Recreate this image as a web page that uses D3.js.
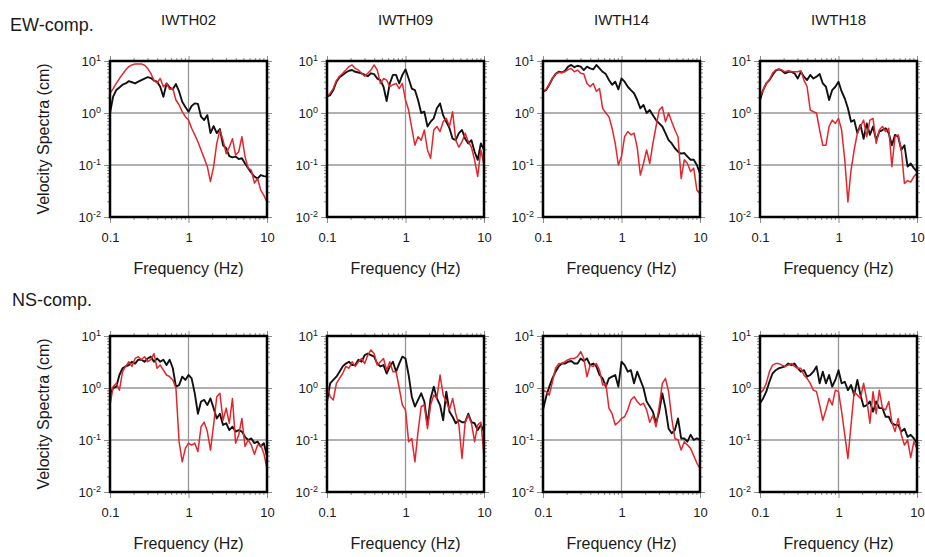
<!DOCTYPE html>
<html><head><meta charset="utf-8">
<script src="https://cdn.jsdelivr.net/npm/d3@7"></script>
<style>
body{margin:0;background:#fff}
text{font-family:"Liberation Sans",Arial,Helvetica,sans-serif;fill:#1a1a1a}
</style>
</head><body>
<svg id="chart" width="925" height="557"></svg>
<script>
// ---------------- DATA ----------------
const stations = ["IWTH02", "IWTH09", "IWTH14", "IWTH18"];
const components = ["EW-comp.", "NS-comp."];
const xTickValues = [0.1, 1, 10];
const xTickLabels = ["0.1", "1", "10"];
const yTickValues = [0.01, 0.1, 1, 10];
const yTickExponents = ["-2", "-1", "0", "1"];
const xAxisTitle = "Frequency (Hz)";
const yAxisTitle = "Velocity Spectra (cm)";

const freq = [0.1, 0.1096, 0.1202, 0.1318, 0.1445, 0.1585, 0.1738, 0.1905, 0.2089, 0.2291,
  0.2512, 0.2754, 0.302, 0.3311, 0.3631, 0.3981, 0.4365, 0.4786, 0.5248, 0.5754,
  0.631, 0.6918, 0.7586, 0.8318, 0.912, 1.0, 1.096, 1.202, 1.318, 1.445,
  1.585, 1.738, 1.905, 2.089, 2.291, 2.512, 2.754, 3.02, 3.311, 3.631,
  3.981, 4.365, 4.786, 5.248, 5.754, 6.31, 6.918, 7.586, 8.318, 9.12, 10.0];

// EW component
const ew02Black = [1.0, 2.06, 2.76, 3.1, 3.5, 3.7, 4.1, 3.9, 3.7, 4.0, 4.3, 4.6, 4.9, 4.7, 4.2, 4.0, 3.2, 2.05, 3.7, 3.1, 2.85, 3.6, 2.6, 1.65, 1.3, 1.06, 1.36, 1.53, 1.5, 0.85, 0.73, 0.91, 0.41, 0.56, 0.41, 0.49, 0.24, 0.21, 0.148, 0.14, 0.145, 0.13, 0.135, 0.107, 0.087, 0.071, 0.06, 0.055, 0.064, 0.061, 0.06];
const ew02Red = [2.4, 2.95, 3.7, 4.6, 5.6, 6.7, 7.8, 8.4, 8.8, 8.8, 8.8, 8.3, 7.2, 5.8, 4.2, 3.8, 4.6, 3.2, 3.7, 2.85, 2.95, 1.78, 1.43, 1.06, 0.85, 0.73, 0.51, 0.38, 0.28, 0.195, 0.135, 0.093, 0.048, 0.093, 0.26, 0.47, 0.30, 0.165, 0.22, 0.32, 0.155, 0.18, 0.35, 0.145, 0.087, 0.08, 0.045, 0.055, 0.033, 0.026, 0.0195];
const ew09Black = [2.06, 2.2, 2.76, 4.0, 4.9, 5.4, 6.0, 6.5, 6.7, 6.2, 6.0, 5.8, 5.4, 5.1, 5.8, 5.6, 4.6, 4.3, 3.2, 1.7, 3.7, 5.4, 5.4, 3.7, 5.4, 6.9, 4.6, 2.95, 2.76, 1.78, 1.0, 1.06, 0.55, 0.68, 0.79, 1.23, 1.53, 0.9, 0.68, 0.51, 0.32, 0.30, 0.41, 0.47, 0.32, 0.26, 0.30, 0.18, 0.126, 0.26, 0.195];
const ew09Red = [2.06, 2.4, 2.95, 4.2, 5.1, 5.8, 6.7, 7.8, 8.4, 7.2, 6.7, 5.8, 5.1, 5.8, 6.7, 8.4, 6.7, 3.7, 4.6, 4.3, 3.2, 3.5, 3.7, 2.95, 3.7, 1.78, 1.14, 0.51, 0.24, 0.35, 0.30, 0.47, 0.195, 0.135, 0.47, 0.55, 0.44, 0.68, 0.79, 0.55, 1.06, 0.30, 0.22, 0.28, 0.41, 0.28, 0.22, 0.126, 0.06, 0.195, 0.10];
const ew14Black = [2.6, 2.76, 3.5, 4.6, 5.6, 6.2, 6.0, 6.5, 7.8, 8.4, 7.6, 8.1, 7.8, 6.7, 7.8, 7.2, 6.9, 8.4, 7.2, 6.2, 5.6, 4.3, 3.5, 4.0, 2.85, 4.6, 4.0, 3.2, 2.76, 2.4, 1.78, 1.23, 1.43, 1.0, 1.14, 0.91, 0.73, 0.63, 0.55, 0.41, 0.30, 0.26, 0.21, 0.18, 0.165, 0.17, 0.145, 0.126, 0.126, 0.10, 0.069];
const ew14Red = [2.6, 2.85, 3.6, 4.6, 5.6, 6.0, 6.0, 6.2, 6.9, 7.2, 6.2, 6.7, 5.8, 5.6, 3.7, 3.2, 3.7, 2.6, 2.95, 1.23, 1.0, 0.85, 0.51, 0.26, 0.10, 0.145, 0.35, 0.44, 0.38, 0.41, 0.22, 0.064, 0.107, 0.195, 0.107, 0.26, 0.55, 1.14, 1.32, 0.68, 1.0, 0.68, 0.47, 0.35, 0.055, 0.126, 0.107, 0.075, 0.087, 0.033, 0.028];
const ew18Black = [1.78, 2.76, 3.7, 4.3, 5.4, 6.5, 6.9, 6.5, 5.8, 6.2, 6.2, 5.8, 4.6, 6.2, 5.0, 4.3, 5.4, 4.6, 5.0, 5.6, 3.7, 3.2, 1.78, 2.76, 3.2, 4.0, 2.6, 1.9, 1.23, 0.68, 0.73, 0.41, 0.59, 0.32, 0.63, 0.38, 0.55, 0.30, 0.44, 0.47, 0.51, 0.41, 0.24, 0.38, 0.35, 0.195, 0.24, 0.093, 0.107, 0.087, 0.075];
const ew18Red = [2.06, 2.76, 3.7, 4.4, 5.8, 6.7, 7.0, 6.7, 6.2, 6.5, 6.2, 6.2, 6.2, 6.5, 4.3, 3.2, 1.14, 1.06, 1.0, 0.47, 0.24, 0.24, 0.55, 0.73, 0.63, 0.79, 0.47, 0.126, 0.0195, 0.08, 0.195, 0.41, 0.55, 0.73, 0.35, 0.73, 0.79, 0.26, 0.47, 0.55, 0.44, 0.51, 0.093, 0.35, 0.38, 0.195, 0.044, 0.05, 0.047, 0.06, 0.069];

// NS component
const ns02Black = [0.73, 1.0, 1.06, 1.78, 2.4, 2.6, 2.76, 3.2, 2.95, 3.5, 3.5, 3.2, 3.7, 4.0, 3.2, 3.7, 3.2, 3.5, 2.76, 3.5, 2.4, 1.06, 1.14, 1.65, 1.43, 1.78, 1.53, 0.79, 0.32, 0.55, 0.59, 0.47, 0.63, 0.41, 0.26, 0.32, 0.195, 0.21, 0.155, 0.18, 0.145, 0.155, 0.145, 0.115, 0.10, 0.107, 0.087, 0.093, 0.075, 0.087, 0.048];
const ns02Red = [0.47, 1.06, 1.23, 0.91, 2.06, 2.6, 3.2, 2.6, 3.7, 4.0, 3.5, 4.0, 3.2, 3.5, 4.6, 2.4, 2.76, 2.2, 1.78, 1.65, 1.43, 1.0, 0.093, 0.038, 0.069, 0.087, 0.08, 0.087, 0.06, 0.18, 0.22, 0.145, 0.064, 0.195, 0.68, 0.79, 0.24, 0.41, 0.21, 0.63, 0.087, 0.126, 0.26, 0.075, 0.10, 0.08, 0.053, 0.08, 0.08, 0.055, 0.028];
const ns09Black = [0.55, 1.23, 1.43, 1.65, 2.06, 2.6, 2.95, 3.2, 2.76, 2.76, 3.5, 3.2, 4.3, 4.6, 4.3, 4.0, 2.95, 2.6, 2.76, 1.9, 2.6, 3.2, 2.06, 2.95, 4.0, 3.7, 1.78, 0.68, 0.44, 0.59, 0.79, 0.55, 0.195, 0.63, 1.06, 0.63, 0.47, 0.24, 0.85, 0.35, 0.28, 0.21, 0.24, 0.22, 0.22, 0.32, 0.22, 0.21, 0.155, 0.195, 0.145];
const ns09Red = [1.14, 0.68, 0.59, 1.23, 1.53, 1.9, 2.6, 2.4, 3.2, 2.6, 3.2, 3.7, 2.95, 4.3, 5.4, 4.6, 2.76, 3.2, 3.7, 2.2, 3.2, 2.06, 2.06, 1.0, 0.47, 0.38, 0.093, 0.107, 0.038, 0.145, 0.44, 0.47, 0.165, 0.47, 0.73, 0.63, 1.78, 0.73, 0.55, 0.38, 0.63, 0.32, 0.195, 0.044, 0.22, 0.30, 0.21, 0.093, 0.195, 0.22, 0.05];
const ns14Black = [0.38, 0.68, 1.06, 1.53, 2.06, 2.6, 2.95, 2.95, 3.2, 3.3, 2.95, 2.95, 3.7, 3.3, 3.7, 2.76, 2.95, 2.6, 1.78, 1.53, 1.06, 1.53, 1.65, 1.78, 1.06, 3.2, 2.76, 2.06, 2.2, 1.23, 2.06, 1.43, 1.0, 0.55, 0.44, 0.35, 0.21, 0.35, 0.79, 0.41, 0.165, 0.135, 0.155, 0.26, 0.107, 0.107, 0.093, 0.126, 0.10, 0.107, 0.10];
const ns14Red = [0.91, 0.85, 0.73, 1.32, 2.4, 2.95, 2.95, 3.2, 3.5, 3.7, 3.7, 4.0, 5.0, 3.7, 1.65, 2.76, 2.6, 2.95, 2.2, 1.14, 1.23, 0.41, 0.32, 0.195, 0.22, 0.26, 0.28, 0.38, 0.59, 0.68, 0.55, 0.47, 0.51, 0.38, 0.22, 0.30, 0.18, 0.44, 1.23, 1.53, 0.85, 0.26, 0.107, 0.10, 0.064, 0.093, 0.08, 0.069, 0.05, 0.036, 0.028];
const ns18Black = [0.51, 0.63, 0.85, 1.32, 1.9, 2.2, 2.4, 2.5, 2.6, 2.95, 2.76, 2.95, 2.4, 2.06, 2.2, 1.65, 1.78, 2.06, 2.6, 1.23, 2.06, 1.23, 1.78, 1.06, 1.43, 2.2, 1.23, 1.32, 0.91, 1.14, 0.73, 1.43, 0.73, 0.44, 0.47, 0.55, 0.35, 0.55, 0.41, 0.41, 0.28, 0.28, 0.21, 0.195, 0.195, 0.145, 0.165, 0.115, 0.126, 0.107, 0.087];
const ns18Red = [0.79, 0.91, 1.23, 2.06, 2.76, 2.95, 2.95, 2.76, 2.6, 2.76, 2.95, 2.6, 2.4, 2.4, 1.78, 1.53, 1.23, 0.91, 0.85, 0.47, 0.24, 0.38, 0.63, 0.47, 0.91, 0.85, 0.35, 0.126, 0.044, 0.195, 0.85, 0.73, 0.63, 1.23, 0.59, 0.21, 0.85, 0.32, 0.91, 0.41, 0.38, 0.55, 0.22, 0.145, 0.26, 0.126, 0.08, 0.10, 0.046, 0.093, 0.069];

const panelSeries = [
  [[ew02Black, ew02Red], [ew09Black, ew09Red], [ew14Black, ew14Red], [ew18Black, ew18Red]],
  [[ns02Black, ns02Red], [ns09Black, ns09Red], [ns14Black, ns14Red], [ns18Black, ns18Red]]
];
const seriesColors = ["#111111", "#e3262d"];

// ---------------- LAYOUT ----------------
const panelLeft = [110, 327, 543, 760];
const rowTop = [61, 336];
const W = 157, H = 156;
const rowOffset = 275;

const svg = d3.select("#chart");

const x = d3.scaleLog().domain([0.1, 10]).range([0, W]);
const y = d3.scaleLog().domain([0.01, 10]).range([H, 0]);

const minorX = [];
[0.1, 1].forEach(d => { for (let m = 2; m <= 9; m++) minorX.push(+(d * m).toPrecision(3)); });
const minorY = [];
[0.01, 0.1, 1].forEach(d => { for (let m = 2; m <= 9; m++) minorY.push(+(d * m).toPrecision(3)); });

const line = d3.line().x((d, i) => x(freq[i])).y(d => y(d)).curve(d3.curveLinear);

svg.append("defs").append("clipPath").attr("id", "clip")
  .append("rect").attr("x", 0).attr("y", 0).attr("width", W).attr("height", H);

const tickColor = "#8c8c8c";

function styleAxis(g) {
  g.select(".domain").remove();
  g.selectAll(".tick line").attr("stroke", tickColor).attr("stroke-width", 1);
}

components.forEach((comp, r) => {
  svg.append("text")
    .attr("x", r === 0 ? 10 : 12)
    .attr("y", r === 0 ? 31 : 306)
    .attr("font-size", 18)
    .text(comp);

  stations.forEach((st, c) => {
    const g = svg.append("g").attr("transform", `translate(${panelLeft[c]},${rowTop[r]})`);

    if (r === 0) {
      svg.append("text")
        .attr("x", panelLeft[c] + W / 2).attr("y", 25)
        .attr("text-anchor", "middle").attr("font-size", 15)
        .text(st);
    }

    // grid
    g.append("g").selectAll("line").data([1]).join("line")
      .attr("x1", d => x(d)).attr("x2", d => x(d)).attr("y1", 0).attr("y2", H)
      .attr("stroke", "#969696").attr("stroke-width", 1.3);
    g.append("g").selectAll("line").data([0.1, 1]).join("line")
      .attr("y1", d => y(d)).attr("y2", d => y(d)).attr("x1", 0).attr("x2", W)
      .attr("stroke", "#969696").attr("stroke-width", 1.3);

    // minor ticks all sides
    g.append("g").attr("transform", `translate(0,${H})`)
      .call(d3.axisBottom(x).tickValues(minorX).tickSize(3).tickFormat("")).call(styleAxis);
    g.append("g")
      .call(d3.axisTop(x).tickValues(minorX).tickSize(3).tickFormat("")).call(styleAxis);
    g.append("g")
      .call(d3.axisLeft(y).tickValues(minorY).tickSize(3).tickFormat("")).call(styleAxis);
    g.append("g").attr("transform", `translate(${W},0)`)
      .call(d3.axisRight(y).tickValues(minorY).tickSize(3).tickFormat("")).call(styleAxis);

    // major ticks
    const xb = g.append("g").attr("transform", `translate(0,${H})`)
      .call(d3.axisBottom(x).tickValues(xTickValues).tickSize(6).tickPadding(10)
        .tickFormat((d, i) => xTickLabels[i])).call(styleAxis);
    xb.selectAll("text").attr("font-size", 13).attr("fill", "#1a1a1a")
      .attr("font-family", '"Liberation Sans",Arial,sans-serif');
    g.append("g")
      .call(d3.axisTop(x).tickValues(xTickValues).tickSize(5).tickFormat("")).call(styleAxis);
    const yl = g.append("g")
      .call(d3.axisLeft(y).tickValues(yTickValues).tickSize(6).tickPadding(3).tickFormat("")).call(styleAxis);
    yl.selectAll(".tick text").each(function (d, i) {
      const t = d3.select(this).attr("font-size", 13).attr("fill", "#1a1a1a")
        .attr("font-family", '"Liberation Sans",Arial,sans-serif').attr("dy", "0.36em");
      t.append("tspan").text("10");
      t.append("tspan").attr("font-size", 9).attr("dy", "-0.55em").text(yTickExponents[i]);
    });
    g.append("g").attr("transform", `translate(${W},0)`)
      .call(d3.axisRight(y).tickValues(yTickValues).tickSize(5).tickFormat("")).call(styleAxis);

    // lines
    const lg = g.append("g").attr("clip-path", "url(#clip)");
    panelSeries[r][c].forEach((vals, s) => {
      lg.append("path").datum(vals)
        .attr("d", line)
        .attr("fill", "none")
        .attr("stroke", seriesColors[s])
        .attr("stroke-width", s === 0 ? 1.9 : 1.5)
        .attr("stroke-linejoin", "round");
    });

    // frame
    g.append("rect").attr("x", 0).attr("y", 0).attr("width", W).attr("height", H)
      .attr("fill", "none").attr("stroke", "#000").attr("stroke-width", 2.5);

    // x axis title
    svg.append("text")
      .attr("x", panelLeft[c] + W / 2).attr("y", 274 + r * rowOffset)
      .attr("text-anchor", "middle").attr("font-size", 16)
      .text(xAxisTitle);

    if (c === 0) {
      svg.append("text")
        .attr("transform", `translate(49,${rowTop[r] + H / 2}) rotate(-90)`)
        .attr("text-anchor", "middle").attr("font-size", 16)
        .text(yAxisTitle);
    }
  });
});
</script>
</body></html>
